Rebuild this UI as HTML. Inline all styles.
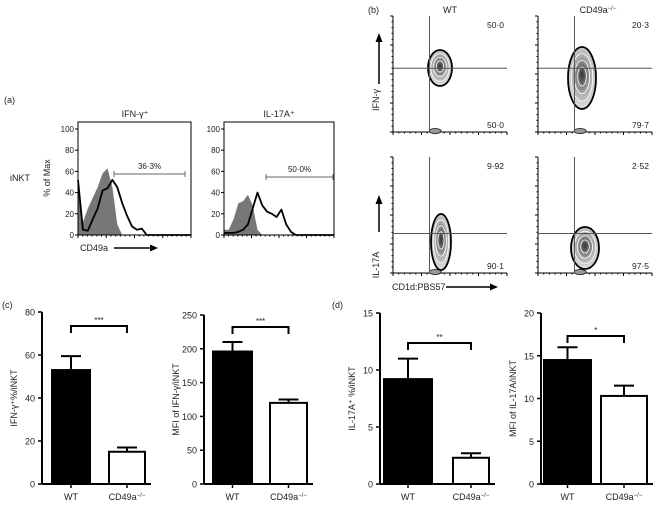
<!DOCTYPE html>
<html><head><meta charset="utf-8"><style>
body{margin:0;background:#fff}
svg{display:block;font-family:"Liberation Sans",sans-serif}
text{fill:#222}
</style></head><body>
<svg id="fig" width="658" height="505" viewBox="0 0 658 505">
<defs>
<radialGradient id="cg" cx="50%" cy="45%" r="60%"><stop offset="0" stop-color="#333"/><stop offset="0.5" stop-color="#aaa"/><stop offset="1" stop-color="#eee"/></radialGradient>
</defs>
<text x="4" y="103" font-size="9">(a)</text>
<text x="10" y="181" font-size="9">iNKT</text>
<text transform="translate(50,178) rotate(-90)" font-size="9" text-anchor="middle">% of Max</text>
<text x="135" y="117" font-size="9" text-anchor="middle">IFN-γ⁺</text>
<text x="279" y="117" font-size="9" text-anchor="middle">IL-17A⁺</text>
<text x="80" y="251" font-size="9">CD49a</text>
<g><line x1="114" y1="248" x2="152" y2="248" stroke="#000" stroke-width="1.5"/><polygon points="150,244.5 158,248 150,251.5" fill="#000"/></g>
<g id="hists"></g>
<text x="368" y="13" font-size="9">(b)</text>
<text x="450" y="13" font-size="9" text-anchor="middle">WT</text>
<text x="598" y="13" font-size="9" text-anchor="middle">CD49a<tspan font-size="6" dy="-3">−/−</tspan></text>
<text transform="translate(379,100) rotate(-90)" font-size="9" text-anchor="middle">IFN-γ</text>
<g><line x1="379" y1="84" x2="379" y2="40" stroke="#000" stroke-width="1.5"/><polygon points="375.5,42 379,33 382.5,42" fill="#000"/></g>
<text transform="translate(379,265) rotate(-90)" font-size="9" text-anchor="middle">IL-17A</text>
<g><line x1="379" y1="232" x2="379" y2="202" stroke="#000" stroke-width="1.5"/><polygon points="375.5,204 379,195 382.5,204" fill="#000"/></g>
<text x="392" y="290" font-size="9">CD1d:PBS57</text>
<g><line x1="446" y1="287" x2="492" y2="287" stroke="#000" stroke-width="1.5"/><polygon points="490,283.5 498,287 490,290.5" fill="#000"/></g>
<g id="dots"></g>
<text x="2" y="308" font-size="9">(c)</text>
<text x="332" y="308" font-size="9">(d)</text>
<g id="bars"></g>
</svg>
<script>
const NS="http://www.w3.org/2000/svg";
function mk(tag,attrs,parent){const e=document.createElementNS(NS,tag);for(const k in attrs)e.setAttribute(k,attrs[k]);parent.appendChild(e);return e;}

const histTicks=[0,20,40,60,80,100];
const ifngIso=[50,12,25,35,45,58,63,45,10,0,0,0,0,0,0,0,0,0,0,0,0,0,0,0];
const ifngStain=[52,5,4,15,25,42,44,52,45,30,18,8,5,6,0,0,0,0,0,0,0,0,0,0];
const il17Iso=[5,5,15,30,32,38,28,5,0,0,0,0,0,0,0,0,0,0,0,0,0,0,0,0];
const il17Stain=[2,2,2,3,5,10,25,40,28,22,20,17,24,10,3,0,0,0,0,0,0,0,0,0];
const gateLabels=["36·3%","50·0%"];

function histPanel(x0,w,iso,stain,gate,name){
  const g=mk('g',{},document.getElementById('hists'));
  
  
  const y0=235,y1=129;
  const ys=v=>y0-(v/100)*(y0-y1);
  const n=iso.length, xs=i=>x0+i*w/(n-1);
  let d=`M${x0},${y0}`;iso.forEach((v,i)=>d+=` L${xs(i)},${ys(v)}`);d+=` L${x0+w},${y0} Z`;
  const a=mk('path',{d,fill:'#777'},g);
  
  
  let d2='';stain.forEach((v,i)=>d2+=(i?' L':'M')+xs(i)+','+ys(v));
  const b=mk('path',{d:d2,fill:'none',stroke:'#000','stroke-width':1.8,'stroke-linejoin':'round'},g);
  
  
  mk('rect',{x:x0,y:122,width:w,height:y0-122,fill:'none',stroke:'#000','stroke-width':1},g);
  histTicks.forEach(t=>{mk('line',{x1:x0-3,x2:x0,y1:ys(t),y2:ys(t),stroke:'#000'},g);
    const tx=mk('text',{x:x0-4,y:ys(t)+3,'font-size':8,'text-anchor':'end'},g);tx.textContent=t;});
  for(let i=0;i<=24;i++){mk('line',{x1:x0+i*w/24,x2:x0+i*w/24,y1:y0,y2:y0+(i%6==0?3:1.5),stroke:'#000'},g);}
  mk('line',{x1:gate[0],x2:gate[1],y1:gate[2],y2:gate[2],stroke:'#666'},g);
  mk('line',{x1:gate[0],x2:gate[0],y1:gate[2]-3,y2:gate[2]+3,stroke:'#666'},g);
  mk('line',{x1:gate[1],x2:gate[1],y1:gate[2]-3,y2:gate[2]+3,stroke:'#666'},g);
  const gt=mk('text',{x:(gate[0]+gate[1])/2,y:gate[2]-5,'font-size':8,'text-anchor':'middle'},g);gt.textContent=gate[3];
}
histPanel(78,113,ifngIso,ifngStain,[114,185,174,gateLabels[0]],'ifng-histogram-panel');
histPanel(224,110,il17Iso,il17Stain,[266,333,177,gateLabels[1]],'il17a-histogram-panel');

const quadTop=["50·0","20·3","9·92","2·52"];
const quadBottom=["50·0","79·7","90·1","97·5"];
function dot(x0,y0,qi,qf,blob,name){
  const g=mk('g',{},document.getElementById('dots'));
  
  
  const w=114,h=116;
  mk('line',{x1:x0,y1:y0,x2:x0,y2:y0+h,stroke:'#000'},g);
  mk('line',{x1:x0,y1:y0+h,x2:x0+w,y2:y0+h,stroke:'#000'},g);
  for(let i=0;i<=20;i++)mk('line',{x1:x0+i*w/20,x2:x0+i*w/20,y1:y0+h,y2:y0+h+(i%5==0?3:1.5),stroke:'#000'},g);
  for(let i=0;i<=20;i++)mk('line',{y1:y0+i*h/20,y2:y0+i*h/20,x1:x0,x2:x0-(i%5==0?3:1.5),stroke:'#000'},g);
  mk('ellipse',{cx:blob[0],cy:blob[1],rx:blob[2],ry:blob[3],fill:'url(#cg)',stroke:'#000','stroke-width':1.8},g);
  for(let k=1;k<4;k++)mk('ellipse',{cx:blob[0],cy:blob[1]-k*0.5,rx:blob[2]*(1-k*0.23),ry:blob[3]*(1-k*0.23),fill:'none',stroke:'#fff','stroke-width':0.8},g);
  mk('ellipse',{cx:x0+w*0.37,cy:y0+h-1,rx:6,ry:2.5,fill:'#999',stroke:'#000','stroke-width':0.7},g);
  const qx=x0+w*0.32,qy=y0+h*qf;
  mk('line',{x1:qx,x2:qx,y1:y0,y2:y0+h,stroke:'#555'},g);
  mk('line',{x1:x0,x2:x0+w,y1:qy,y2:qy,stroke:'#555'},g);
  const t1=mk('text',{x:x0+w-3,y:y0+12,'font-size':8.5,'text-anchor':'end'},g);t1.textContent=quadTop[qi];
  const t2=mk('text',{x:x0+w-3,y:y0+h-4,'font-size':8.5,'text-anchor':'end'},g);t2.textContent=quadBottom[qi];
}
dot(393,16,0,0.45,[440,68,12,18],'wt-ifng-dotplot');
dot(538,16,1,0.45,[582,78,14,31],'ko-ifng-dotplot');
dot(393,157,2,0.66,[441,242,10,28],'wt-il17a-dotplot');
dot(538,157,3,0.66,[585,248,14,21],'ko-il17a-dotplot');

const groups=["WT","CD49a−/−"];
const ifngPct=[53,15], ifngPctErr=[59.5,17];
const ifngMfi=[196,120], ifngMfiErr=[210,125];
const il17Pct=[9.2,2.3], il17PctErr=[11,2.7];
const il17Mfi=[14.5,10.3], il17MfiErr=[16,11.5];
const ticksA=[0,20,40,60,80], ticksB=[0,50,100,150,200,250], ticksC=[0,5,10,15], ticksD=[0,5,10,15,20];
const sigs=["***","***","**","*"];

function barChart(ax,top,max,ticks,vals,errs,bars,title,sig,sigY,name){
  const g=mk('g',{},document.getElementById('bars'));
  
  
  const y0=484, ys=v=>y0-(v/max)*(y0-top);
  mk('line',{x1:ax,x2:ax,y1:top,y2:y0,stroke:'#000','stroke-width':2},g);
  mk('line',{x1:ax,x2:bars[1][1]+6,y1:y0,y2:y0,stroke:'#000','stroke-width':2},g);
  ticks.forEach(t=>{mk('line',{x1:ax-4,x2:ax,y1:ys(t),y2:ys(t),stroke:'#000','stroke-width':1.5},g);
    const tx=mk('text',{x:ax-7,y:ys(t)+3.5,'font-size':9,'text-anchor':'end'},g);tx.textContent=t;});
  vals.forEach((v,i)=>{
    const [x1,x2]=bars[i], cx=(x1+x2)/2;
    const r=mk('rect',{x:x1,y:ys(v),width:x2-x1,height:y0-ys(v),fill:i?'#fff':'#000',stroke:'#000','stroke-width':2},g);
    
    
    mk('line',{x1:cx,x2:cx,y1:ys(v),y2:ys(errs[i]),stroke:'#000','stroke-width':2},g);
    mk('line',{x1:cx-10,x2:cx+10,y1:ys(errs[i]),y2:ys(errs[i]),stroke:'#000','stroke-width':2},g);
    mk('line',{x1:cx,x2:cx,y1:y0,y2:y0+4,stroke:'#000','stroke-width':1.5},g);
    const lab=mk('text',{x:cx,y:y0+16,'font-size':9,'text-anchor':'middle'},g);
    if(i){lab.textContent='CD49a';const ts=mk('tspan',{'font-size':6,dy:-3},lab);ts.textContent='−/−';}
    else lab.textContent=groups[0];
  });
  const c0=(bars[0][0]+bars[0][1])/2,c1=(bars[1][0]+bars[1][1])/2;
  mk('path',{d:`M${c0},${sigY+7} V${sigY} H${c1} V${sigY+7}`,fill:'none',stroke:'#000','stroke-width':2},g);
  const st=mk('text',{x:(c0+c1)/2,y:sigY-3,'font-size':8,'text-anchor':'middle'},g);st.textContent=sig;
  const tt=mk('text',{transform:`translate(${ax-25},${(top+y0)/2}) rotate(-90)`,'font-size':9,'text-anchor':'middle'},g);tt.textContent=title;
}
barChart(42,312,80,ticksA,ifngPct,ifngPctErr,[[52,90],[109,145]],'IFN-γ⁺%/iNKT',sigs[0],326,'ifng-pct-chart');
barChart(204,315,250,ticksB,ifngMfi,ifngMfiErr,[[213,252],[270,307]],'MFI of IFN-γ/iNKT',sigs[1],327,'ifng-mfi-chart');
barChart(380,313,15,ticksC,il17Pct,il17PctErr,[[384,432],[453,489]],'IL-17A⁺ %/iNKT',sigs[2],343,'il17a-pct-chart');
barChart(541,313,20,ticksD,il17Mfi,il17MfiErr,[[544,591],[601,647]],'MFI of IL-17A/iNKT',sigs[3],336,'il17a-mfi-chart');
</script>
</body></html>
